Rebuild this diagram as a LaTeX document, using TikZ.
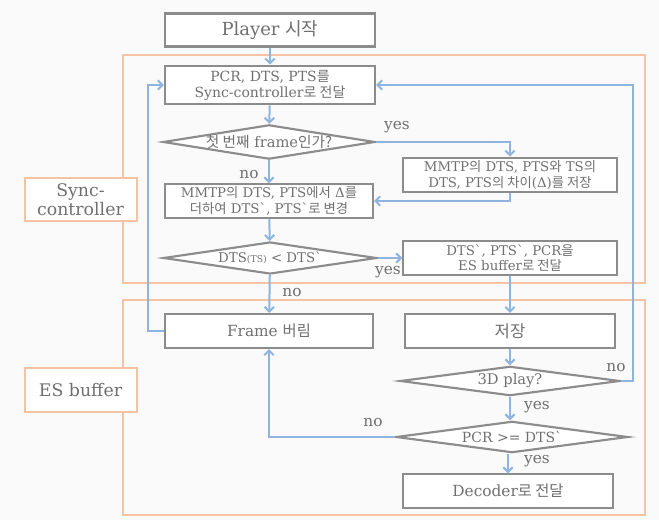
\documentclass[tikz,border=0pt]{standalone}
\usepackage{fontspec}
\setmainfont{DejaVu Serif}
\newfontfamily\kr{Noto Sans CJK KR}
\usetikzlibrary{shapes.geometric,arrows.meta}
\definecolor{boxgray}{HTML}{8C8C8C}
\definecolor{txtgray}{HTML}{707070}
\definecolor{flowblue}{HTML}{8FB4DE}
\definecolor{regorange}{HTML}{F5C3A3}
\newcommand{\K}[1]{{\kr #1}}
\newcommand{\gr}{\textasciigrave}
\newcommand{\fs}[1]{\fontsize{#1}{#1}\selectfont}
\tikzset{
  stepbox/.style={draw=boxgray, line width=1.6pt, fill=white, text=txtgray, align=center,
    font=\fontsize{10}{11.5}\selectfont, inner sep=1pt},
  decision/.style={diamond, draw=boxgray, line width=1.6pt, fill=white, text=txtgray, align=center,
    inner sep=0pt, aspect=6},
  flow/.style={draw=flowblue, line width=1.5pt, -{Straight Barb[length=3.5pt,width=7pt]}},
  region/.style={draw=regorange, line width=1.5pt},
  reglabel/.style={draw=regorange, line width=1.5pt, fill=white, text=txtgray, align=center,
    font=\fontsize{13}{14.5}\selectfont, inner sep=1pt},
  lab/.style={text=txtgray, font=\fontsize{11.5}{12}\selectfont, inner sep=0pt},
}
\begin{document}
\begin{tikzpicture}[x=0.75pt, y=-0.75pt]
\useasboundingbox (0,0) rectangle (659,520);
\fill[gray!4] (0,0) rectangle (659,520);

% regions
\draw[region] (123,55) rectangle (645,283);
\draw[region] (123,300) rectangle (645,515);
\node[reglabel, minimum width=84pt, minimum height=32pt] (rs) at (80.5,199.5) {Sync-\\controller};
\node[reglabel, minimum width=84pt, minimum height=33pt] (re) at (80.5,390) {ES buffer};

% boxes
\node[stepbox, minimum width=157.5pt, minimum height=24.75pt, font=\fs{13.5}] (start) at (270,30) {Player \K{시작}};
\node[stepbox, minimum width=157.5pt, minimum height=29pt, font=\fontsize{10.5}{12}\selectfont] (pcr) at (270,85) {PCR, DTS, PTS\K{를}\\Sync-controller\K{로 전달}};
\node[decision, minimum width=159pt, minimum height=25pt, font=\fs{11}] (d1) at (269,142) {\K{첫 번째} frame\K{인가?}};
\node[stepbox, minimum width=160pt, minimum height=26pt] (mmtp) at (510,175) {MMTP\K{의} DTS, PTS\K{와} TS\K{의}\\DTS, PTS\K{의 차이}(Δ)\K{를 저장}};
\node[stepbox, minimum width=156pt, minimum height=25pt] (b2) at (269,201) {MMTP\K{의} DTS, PTS\K{에서} Δ\K{를}\\\K{더하여} DTS\gr, PTS\gr\K{로 변경}};
\node[decision, minimum width=160pt, minimum height=24pt, font=\fs{10}] (d2) at (270,258) {DTS{\fs{7}(TS)} < DTS\gr};
\node[stepbox, minimum width=160pt, minimum height=25pt] (dts) at (510,258) {DTS\gr, PTS\gr, PCR\K{을}\\ES buffer\K{로 전달}};
\node[stepbox, minimum width=156pt, minimum height=25.5pt, font=\fs{11.5}] (frame) at (269,331) {Frame \K{버림}};
\node[stepbox, minimum width=157.5pt, minimum height=25.5pt, font=\fs{12.5}] (save) at (510,331) {\K{저장}};
\node[decision, minimum width=165pt, minimum height=22pt, font=\fs{11}] (d3) at (510,381) {3D play?};
\node[decision, minimum width=174pt, minimum height=23.5pt, font=\fs{10.5}] (d4) at (512,437) {PCR >= DTS\gr};
\node[stepbox, minimum width=157.5pt, minimum height=25pt, font=\fs{11.5}] (dec) at (508,491) {Decoder\K{로 전달}};

% connectors
\draw[flow] (start) -- (pcr);
\draw[flow] (pcr) -- (d1);
\draw[flow] (d1.east) -| (mmtp.north);
\draw[flow] (mmtp.south) |- (b2.east);
\draw[flow] (d1) -- (b2);
\draw[flow] (b2) -- (d2);
\draw[flow] (d2.east) -- (dts.west);
\draw[flow] (dts.south) -- (save.north);
\draw[flow] (d2) -- (frame);
\draw[flow] (frame.west) -- ++(-16,0) |- (pcr.west);
\draw[flow] (save) -- (d3);
\draw[flow] (d3.east) -- ++(12,0) |- (pcr.east);
\draw[flow] (d3.south) -- (d4.north -| d3.south);
\draw[flow] (d4.west) -| (frame.south);
\draw[flow] (d4.south -| dec.north) -- (dec.north);

% labels
\node[lab] (ly1) at (397,127) {yes};
\node[lab] (ln1) at (249,175) {no};
\node[lab] (ly2) at (388,272) {yes};
\node[lab] (ln2) at (292,293) {no};
\node[lab] (ln3) at (616,368) {no};
\node[lab] (ly3) at (537,407) {yes};
\node[lab] (ln4) at (373,423) {no};
\node[lab] (ly4) at (537,461) {yes};
\end{tikzpicture}
\end{document}
